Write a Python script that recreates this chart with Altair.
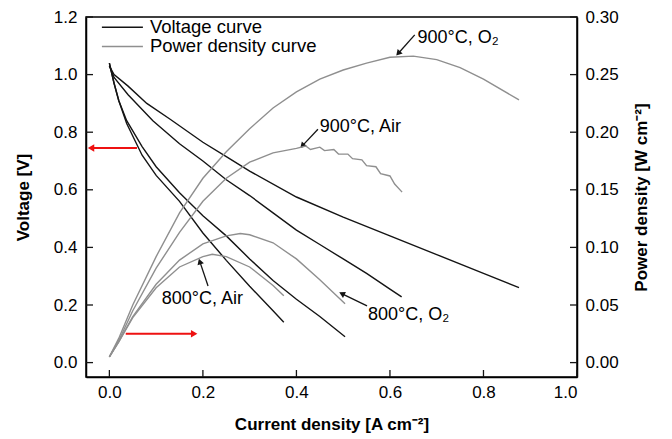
import math
import altair as alt
import pandas as pd

# ---------------- data ----------------
I_V_900_O2 = [0.0, 0.01, 0.04, 0.08, 0.13, 0.2, 0.25, 0.3, 0.4, 0.5, 0.6, 0.7, 0.8, 0.876]
V_900_O2 = [1.03, 1.0, 0.96, 0.90, 0.845, 0.765, 0.715, 0.665, 0.575, 0.505, 0.44, 0.375, 0.31, 0.26]

I_V_900_AIR = [0.0, 0.01, 0.04, 0.093, 0.15, 0.2, 0.25, 0.3, 0.35, 0.4, 0.45, 0.5, 0.55, 0.6, 0.625]
V_900_AIR = [1.03, 0.99, 0.93, 0.84, 0.76, 0.70, 0.635, 0.58, 0.52, 0.46, 0.41, 0.36, 0.31, 0.255, 0.228]

I_V_800_O2 = [0.0, 0.01, 0.02, 0.037, 0.07, 0.1, 0.15, 0.2, 0.25, 0.3, 0.35, 0.4, 0.45, 0.504]
V_800_O2 = [1.04, 0.97, 0.91, 0.84, 0.75, 0.68, 0.59, 0.51, 0.44, 0.36, 0.285, 0.22, 0.16, 0.09]

I_V_800_AIR = [0.0, 0.01, 0.02, 0.037, 0.07, 0.1, 0.15, 0.2, 0.25, 0.3, 0.35, 0.373]
V_800_AIR = [1.04, 0.97, 0.91, 0.83, 0.72, 0.65, 0.56, 0.45, 0.355, 0.265, 0.18, 0.14]

I_P_900_O2 = [0.0, 0.02, 0.05, 0.1, 0.15, 0.2, 0.25, 0.3, 0.35, 0.4, 0.45, 0.5, 0.55, 0.6, 0.65,
              0.7, 0.75, 0.8, 0.876]
P_900_O2 = [0.005, 0.021, 0.05, 0.092, 0.13, 0.16, 0.183, 0.203, 0.221, 0.235, 0.246, 0.254, 0.26,
            0.265, 0.266, 0.263, 0.256, 0.246, 0.228]

I_P_900_AIR = [0.0, 0.02, 0.05, 0.1, 0.15, 0.2, 0.25, 0.3, 0.35, 0.4, 0.42, 0.43, 0.45, 0.46,
               0.48, 0.49, 0.51, 0.52, 0.54, 0.55, 0.57, 0.58, 0.60, 0.61, 0.626]
P_900_AIR = [0.005, 0.019, 0.045, 0.082, 0.113, 0.14, 0.16, 0.174, 0.182, 0.186, 0.188, 0.185, 0.187, 0.184,
             0.185, 0.181, 0.181, 0.177, 0.176, 0.171, 0.170, 0.164, 0.162, 0.155, 0.148]

I_P_800_O2 = [0.0, 0.02, 0.05, 0.1, 0.15, 0.2, 0.25, 0.28, 0.3, 0.35, 0.4, 0.45, 0.504]
P_800_O2 = [0.005, 0.018, 0.04, 0.068, 0.089, 0.103, 0.11, 0.112, 0.111, 0.104, 0.09, 0.072, 0.051]

I_P_800_AIR = [0.0, 0.02, 0.05, 0.1, 0.15, 0.2, 0.22, 0.25, 0.3, 0.35, 0.373]
P_800_AIR = [0.005, 0.018, 0.039, 0.065, 0.083, 0.092, 0.094, 0.092, 0.083, 0.067, 0.058]

X_TICKS = [0.0, 0.2, 0.4, 0.6, 0.8, 1.0]
V_TICKS = [0.0, 0.2, 0.4, 0.6, 0.8, 1.0, 1.2]
P_TICKS = [0.0, 0.05, 0.10, 0.15, 0.20, 0.25, 0.30]

ANN_TEXT = ["900°C, O₂", "900°C, Air", "800°C, Air", "800°C, O₂"]
ANN_X = [0.659, 0.450, 0.112, 0.553]
ANN_Y = [1.128, 0.817, 0.221, 0.166]
ARR_TAIL_X = [0.653, 0.446, 0.211, 0.551]
ARR_TAIL_Y = [1.138, 0.810, 0.266, 0.197]
ARR_HEAD_X = [0.619, 0.414, 0.194, 0.499]
ARR_HEAD_Y = [1.076, 0.755, 0.348, 0.238]

RED_TAIL_X = [0.059, 0.035]
RED_TAIL_Y = [0.745, 0.100]
RED_HEAD_X = [-0.037, 0.179]
RED_HEAD_Y = [0.745, 0.100]

LEG_LABELS = ["Voltage curve", "Power density curve"]
LEG_X0, LEG_X1, LEG_TX = -0.016, 0.0717, 0.0866
LEG_Y = [1.164, 1.098]

W, H = 491, 360
X_DOM = [-0.05, 1.0]
V_DOM = [-0.05, 1.2]
P_DOM = [-0.0125, 0.30]
BLACK = "#141414"
GRAY = "#8f8f8f"
FONT = "Liberation Sans"

px_per_x = W / (X_DOM[1] - X_DOM[0])
px_per_v = H / (V_DOM[1] - V_DOM[0])


def long(pairs, valname):
    rows = []
    for name, xs_, ys_ in pairs:
        for a, b in zip(xs_, ys_):
            rows.append({"I": a, valname: b, "series": name})
    return pd.DataFrame(rows)


vdf = long([("900O2", I_V_900_O2, V_900_O2), ("900Air", I_V_900_AIR, V_900_AIR),
            ("800O2", I_V_800_O2, V_800_O2), ("800Air", I_V_800_AIR, V_800_AIR)], "V")
pdf = long([("900O2", I_P_900_O2, P_900_O2), ("900Air", I_P_900_AIR, P_900_AIR),
            ("800O2", I_P_800_O2, P_800_O2), ("800Air", I_P_800_AIR, P_800_AIR)], "P")

xs = alt.Scale(domain=X_DOM, nice=False, zero=False)
vs = alt.Scale(domain=V_DOM, nice=False, zero=False)
ps = alt.Scale(domain=P_DOM, nice=False, zero=False)

x_axis = alt.Axis(values=X_TICKS, format=".1f", title="Current density [A cm⁻²]",
                  ticks=False, grid=False, labelPadding=7, titlePadding=16)
v_axis = alt.Axis(values=V_TICKS, format=".1f", title="Voltage [V]", ticks=False,
                  grid=False, labelPadding=9, titlePadding=21)
p_axis = alt.Axis(values=P_TICKS, format=".2f", title="Power density [W cm⁻²]", ticks=False,
                  grid=False, labelPadding=8, titlePadding=32, orient="right", titleAngle=270)

X_ENC = alt.X("I:Q", scale=xs, axis=x_axis)
Y_ENC = alt.Y("V:Q", scale=vs, axis=v_axis)
P_ENC = alt.Y("P:Q", scale=ps, axis=p_axis)

v_lines = alt.Chart(vdf).mark_line(color=BLACK, strokeWidth=1.4).encode(
    x=X_ENC, y=Y_ENC, detail="series:N")
p_lines = alt.Chart(pdf).mark_line(color=GRAY, strokeWidth=1.4).encode(
    x=X_ENC, y=P_ENC, detail="series:N")

# inward tick marks
xt = alt.Chart(pd.DataFrame({"I": X_TICKS})).mark_rule(color=BLACK, strokeWidth=1.3).encode(
    x=X_ENC, y=alt.value(H), y2=alt.value(H - 7))
vt = alt.Chart(pd.DataFrame({"V": V_TICKS})).mark_rule(color=BLACK, strokeWidth=1.3).encode(
    y=Y_ENC, x=alt.value(0), x2=alt.value(7))
pt = alt.Chart(pd.DataFrame({"P": P_TICKS})).mark_rule(color=BLACK, strokeWidth=1.3).encode(
    y=P_ENC, x=alt.value(W), x2=alt.value(W - 7))


def angle_of(tx, ty, hx, hy):
    dx = (hx - tx) * px_per_x
    dy = -(hy - ty) * px_per_v
    return math.degrees(math.atan2(dx, -dy)) % 360


arr = pd.DataFrame({"I": ARR_TAIL_X, "V": ARR_TAIL_Y, "I2": ARR_HEAD_X, "V2": ARR_HEAD_Y})
arr["ang"] = [angle_of(a, b, c, d) for a, b, c, d in zip(ARR_TAIL_X, ARR_TAIL_Y, ARR_HEAD_X, ARR_HEAD_Y)]
red = pd.DataFrame({"I": RED_TAIL_X, "V": RED_TAIL_Y, "I2": RED_HEAD_X, "V2": RED_HEAD_Y})
red["ang"] = [angle_of(a, b, c, d) for a, b, c, d in zip(RED_TAIL_X, RED_TAIL_Y, RED_HEAD_X, RED_HEAD_Y)]

arr_shaft = alt.Chart(arr).mark_rule(color=BLACK, strokeWidth=1.3).encode(
    x=X_ENC, x2="I2:Q", y=Y_ENC, y2="V2:Q")
arr_head = alt.Chart(arr).transform_calculate(I="datum.I2", V="datum.V2").mark_point(
    shape="triangle", filled=True, size=45, color=BLACK, opacity=1).encode(
    x=X_ENC, y=Y_ENC, angle=alt.Angle("ang:Q", scale=None))
red_shaft = alt.Chart(red).mark_rule(color="#ee1111", strokeWidth=2).encode(
    x=X_ENC, x2="I2:Q", y=Y_ENC, y2="V2:Q")
red_head = alt.Chart(red).transform_calculate(I="datum.I2", V="datum.V2").mark_point(
    shape="triangle", filled=True, size=55, color="#ee1111", opacity=1).encode(
    x=X_ENC, y=Y_ENC, angle=alt.Angle("ang:Q", scale=None))

ann = alt.Chart(pd.DataFrame({"t": ANN_TEXT, "I": ANN_X, "V": ANN_Y})).mark_text(
    align="left", baseline="middle", fontSize=18, font=FONT, color="black").encode(
    x=X_ENC, y=Y_ENC, text="t:N")

leg = pd.DataFrame({"lab": LEG_LABELS, "V": LEG_Y, "I": [LEG_X0] * 2, "I2": [LEG_X1] * 2,
                    "tx": [LEG_TX] * 2})
leg_color = alt.Color("lab:N", scale=alt.Scale(domain=LEG_LABELS, range=[BLACK, GRAY]), legend=None)
leg_lines = alt.Chart(leg).mark_rule(strokeWidth=1.5).encode(
    x=X_ENC, x2="I2:Q", y=Y_ENC, color=leg_color)
leg_text = alt.Chart(leg).transform_calculate(I="datum.tx").mark_text(
    align="left", baseline="middle", fontSize=18.5, font=FONT, color="black").encode(
    x=X_ENC, y=Y_ENC, text="lab:N")

left = alt.layer(v_lines, xt, vt, arr_shaft, arr_head, red_shaft, red_head, ann, leg_lines, leg_text)
right = alt.layer(p_lines, pt)

chart = alt.layer(left, right).resolve_scale(y="independent").properties(
    width=W, height=H,
    padding={"left": 78, "top": 9, "right": 85, "bottom": 58},
    autosize=alt.AutoSizeParams(type="none"),
).configure(font=FONT).configure_view(
    stroke="black", strokeWidth=1.5
).configure_axis(
    domainColor="black", domainWidth=1.5, labelFont=FONT, labelFontSize=17, labelColor="black",
    titleFont=FONT, titleFontSize=17, titleFontWeight="bold", titleColor="black",
)

chart.save("out.html", embed_options={"renderer": "svg", "actions": False})
